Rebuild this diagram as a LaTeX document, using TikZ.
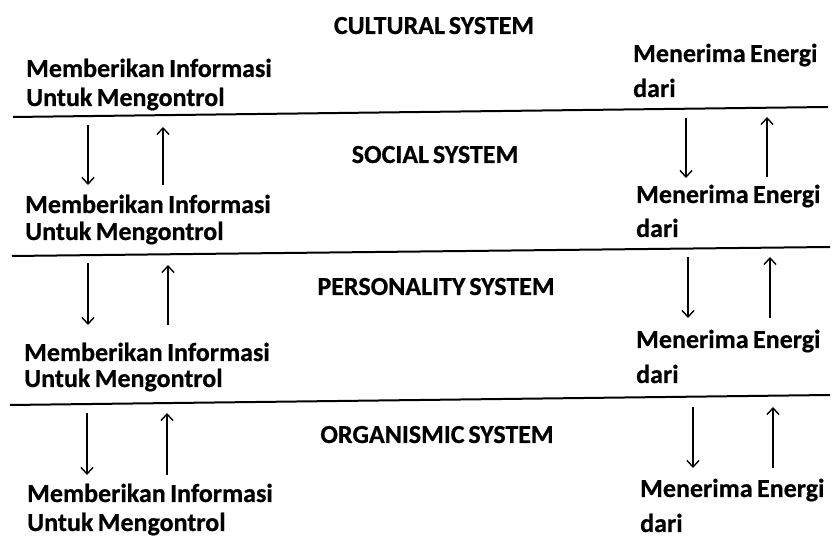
\documentclass[tikz,border=0pt]{standalone}
\usepackage{fontspec}
\setmainfont{Carlito}[FakeBold=0.6]
\usetikzlibrary{arrows.meta}
\newcommand{\lblfont}{\fontsize{26}{26}\selectfont\bfseries\spaceskip=0.17em\relax}
\newcommand{\ttlfont}{\fontsize{26}{26}\selectfont\bfseries\spaceskip=0.15em\relax}
\begin{document}
\begin{tikzpicture}[x=1pt,y=1pt,
  lbl/.style={anchor=base west, inner sep=0pt, font=\lblfont},
  ttl/.style={anchor=base, inner sep=0pt, font=\ttlfont},
  sepline/.style={line width=2pt},
  flow/.style={line width=1.4pt, -{Straight Barb[length=6.5pt,width=12pt]}}]
\useasboundingbox (0,0) rectangle (837,537);
% titles
\node[ttl] (t1) at (434,503) {CULTURAL SYSTEM};
\node[ttl] (t2) at (435,374) {SOCIAL SYSTEM};
\node[ttl] (t3) at (436,242) {PERSONALITY SYSTEM};
\node[ttl] (t4) at (437,94) {ORGANISMIC SYSTEM};
% left labels
\node[lbl] (l1a) at (26,460) {Memberikan Informasi};
\node[lbl] (l1b) at (26,431) {Untuk Mengontrol};
\node[lbl] (l2a) at (25,324) {Memberikan Informasi};
\node[lbl] (l2b) at (25,297) {Untuk Mengontrol};
\node[lbl] (l3a) at (24,176) {Memberikan Informasi};
\node[lbl] (l3b) at (24,150) {Untuk Mengontrol};
\node[lbl] (l4a) at (27,35) {Memberikan Informasi};
\node[lbl] (l4b) at (27,6) {Untuk Mengontrol};
% right labels
\node[lbl] (r1a) at (633,475) {Menerima Energi};
\node[lbl] (r1b) at (633,440) {dari};
\node[lbl] (r2a) at (636,334) {Menerima Energi};
\node[lbl] (r2b) at (636,300) {dari};
\node[lbl] (r3a) at (636,189) {Menerima Energi};
\node[lbl] (r3b) at (636,154) {dari};
\node[lbl] (r4a) at (640,40) {Menerima Energi};
\node[lbl] (r4b) at (640,5) {dari};
% separator lines
\coordinate (s1w) at (13,420); \coordinate (s1e) at (828,430);
\coordinate (s2w) at (12,281); \coordinate (s2e) at (830,290);
\coordinate (s3w) at (10,132); \coordinate (s3e) at (830,142);
\draw[sepline] (s1w) -- (s1e);
\draw[sepline] (s2w) -- (s2e);
\draw[sepline] (s3w) -- (s3e);
% arrow end points
\coordinate (a2dt) at (88,412); \coordinate (a2db) at (88,352);
\coordinate (a2ub) at (163,352); \coordinate (a2ut) at (163,410);
\coordinate (a3dt) at (88,274); \coordinate (a3db) at (88,212);
\coordinate (a3ub) at (168,212); \coordinate (a3ut) at (168,272);
\coordinate (a4dt) at (87,124); \coordinate (a4db) at (87,62);
\coordinate (a4ub) at (167,62); \coordinate (a4ut) at (167,124);
\coordinate (b2dt) at (686,419); \coordinate (b2db) at (686,359);
\coordinate (b2ub) at (767,360); \coordinate (b2ut) at (767,420);
\coordinate (b3dt) at (688,280); \coordinate (b3db) at (688,219);
\coordinate (b3ub) at (770,219); \coordinate (b3ut) at (770,280);
\coordinate (b4dt) at (693,130); \coordinate (b4db) at (693,69);
\coordinate (b4ub) at (773,69); \coordinate (b4ut) at (773,130);
% arrows
\draw[flow] (a2dt) -- (a2db); \draw[flow] (a2ub) -- (a2ut);
\draw[flow] (a3dt) -- (a3db); \draw[flow] (a3ub) -- (a3ut);
\draw[flow] (a4dt) -- (a4db); \draw[flow] (a4ub) -- (a4ut);
\draw[flow] (b2dt) -- (b2db); \draw[flow] (b2ub) -- (b2ut);
\draw[flow] (b3dt) -- (b3db); \draw[flow] (b3ub) -- (b3ut);
\draw[flow] (b4dt) -- (b4db); \draw[flow] (b4ub) -- (b4ut);
\end{tikzpicture}
\end{document}
